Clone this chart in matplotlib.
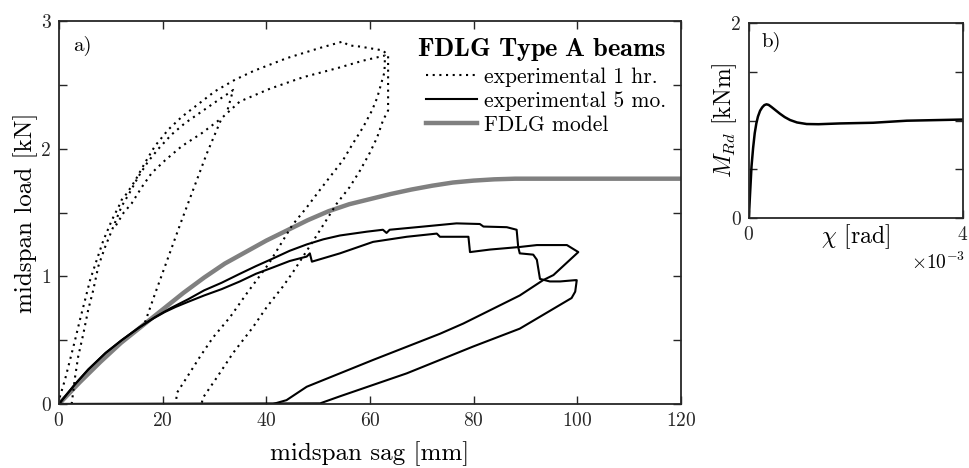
import matplotlib
matplotlib.use("Agg")
import matplotlib.pyplot as plt
from matplotlib.lines import Line2D

plt.rcParams['font.family'] = 'serif'
plt.rcParams['font.serif'] = ['cmr10']
plt.rcParams['mathtext.fontset'] = 'cm'
plt.rcParams['axes.formatter.use_mathtext'] = True
plt.rcParams['axes.unicode_minus'] = False

# ---- panel a data: experimental 1 hr. (dotted, several traced segments) ----
hr1_a_x = [0.0, 0.2, 1.16, 2.1, 3.1, 4.05, 5.0, 6.0, 7.3, 8.55, 10.2, 11.8, 12.1, 13.1, 14.7, 16.6, 18.5,
           21.1, 23.7, 26.9, 30.1, 33.95, 37.6, 44.0, 50.4, 54.8, 55.8, 58.1, 62.5, 63.5, 63.5, 63.5,
           62.5, 61.4, 60.0, 58.1, 56.1, 53.6, 49.4, 45.1, 43.2, 40.1, 37.4, 33.6, 30.5, 27.8, 27.5]
hr1_a_y = [0.0, 0.06, 0.19, 0.34, 0.50, 0.66, 0.81, 0.97, 1.13, 1.28, 1.44, 1.57, 1.60, 1.65, 1.75, 1.89, 2.02,
           2.15, 2.25, 2.35, 2.45, 2.54, 2.61, 2.71, 2.79, 2.84, 2.81, 2.80, 2.77, 2.73, 2.50, 2.30,
           2.22, 2.09, 1.97, 1.83, 1.70, 1.57, 1.30, 1.03, 0.92, 0.76, 0.60, 0.40, 0.21, 0.05, 0.0]

hr1_b_x = [2.45, 3.1, 3.7, 4.7, 5.65, 6.6, 7.6, 8.9, 10.2, 12.1, 12.4, 13.7, 15.3, 17.2, 19.2, 21.7,
           24.3, 27.5, 30.7, 33.3, 33.6, 32.5]
hr1_b_y = [0.0, 0.21, 0.37, 0.55, 0.74, 0.89, 1.08, 1.23, 1.36, 1.55, 1.57, 1.66, 1.78, 1.90, 2.00, 2.11,
           2.20, 2.29, 2.38, 2.45, 2.46, 2.30]

hr1_c_x = [11.0, 12.5, 14.0, 16.0, 17.9, 20.5, 23.7, 27.5, 31.4]
hr1_c_y = [1.40, 1.50, 1.57, 1.70, 1.81, 1.91, 2.02, 2.12, 2.24]

hr1_d_x = [16.6, 18.5, 21.0, 23.5, 26.0, 28.5, 31.4, 34.9, 40.7, 47.1, 53.6, 58.7, 62.9,
           62.8, 61.4, 60.4, 58.7, 56.7, 54.8, 52.3, 50.4, 47.8, 45.0, 40.5, 36.3, 33.0, 29.7,
           27.2, 24.7, 22.8, 22.5]
hr1_d_y = [0.64, 0.86, 1.14, 1.42, 1.69, 1.96, 2.24, 2.37, 2.47, 2.56, 2.63, 2.69, 2.73,
           2.60, 2.40, 2.30, 2.17, 2.04, 1.91, 1.78, 1.68, 1.54, 1.40, 1.10, 0.87, 0.68, 0.52,
           0.37, 0.21, 0.09, 0.0]

hr1_segments = [(hr1_a_x, hr1_a_y), (hr1_b_x, hr1_b_y), (hr1_c_x, hr1_c_y), (hr1_d_x, hr1_d_y)]

# ---- panel a data: experimental 5 mo. (solid) ----
mo5_a_x = [0.0, 3.0, 5.65, 9.0, 12.1, 15.5, 18.5, 21.5, 24.9, 28.0, 31.4, 34.9, 38.0, 41.3, 44.5, 47.8,
           51.0, 54.2, 59.4, 62.5, 63.2, 63.8, 70.3, 76.7, 81.2, 81.9, 86.4, 88.3, 88.6, 88.9, 91.5,
           92.2, 92.8, 94.7, 96.7, 99.6, 99.9, 99.6, 98.9, 88.9, 79.9, 67.1, 54.2, 50.4, 0.0]
mo5_a_y = [0.0, 0.15, 0.27, 0.40, 0.50, 0.60, 0.68, 0.75, 0.82, 0.89, 0.95, 1.02, 1.08, 1.14, 1.20, 1.25,
           1.29, 1.32, 1.35, 1.365, 1.34, 1.365, 1.39, 1.415, 1.41, 1.39, 1.385, 1.365, 1.23, 1.18, 1.17,
           1.13, 0.98, 0.96, 0.96, 0.97, 0.97, 0.88, 0.83, 0.59, 0.45, 0.24, 0.06, 0.005, 0.0]

mo5_b_x = [0.0, 3.0, 5.65, 9.0, 12.1, 15.5, 18.0, 20.4, 22.5, 24.9, 28.0, 31.4, 34.9, 38.0, 41.3, 44.5,
           47.8, 48.4, 48.8, 54.2, 60.6, 67.1, 72.9, 73.5, 79.0, 79.3, 83.2, 88.9, 92.2, 98.0, 100.2,
           98.6, 95.4, 93.4, 88.9, 78.0, 73.5, 60.6, 47.8, 43.9, 41.3, 0.0]
mo5_b_y = [0.0, 0.15, 0.27, 0.40, 0.50, 0.60, 0.665, 0.72, 0.76, 0.80, 0.85, 0.90, 0.96, 1.02, 1.07, 1.12,
           1.155, 1.18, 1.115, 1.18, 1.27, 1.31, 1.335, 1.31, 1.31, 1.19, 1.21, 1.23, 1.245, 1.245, 1.19,
           1.13, 1.01, 0.97, 0.85, 0.63, 0.55, 0.345, 0.135, 0.03, 0.0, 0.0]

# ---- panel a data: FDLG model ----
model_x = [0, 4, 8, 12, 16, 20, 24, 28, 32, 36, 40, 44, 48, 52, 56, 60, 64, 68, 72, 76, 80, 84, 88, 120]
model_y = [0, 0.17, 0.33, 0.48, 0.61, 0.74, 0.87, 0.99, 1.10, 1.19, 1.28, 1.36, 1.44, 1.51, 1.565,
           1.605, 1.645, 1.68, 1.71, 1.735, 1.75, 1.76, 1.765, 1.765]

# ---- panel b data: moment-curvature (chi in 1e-3 rad) ----
chi = [0.0, 0.02, 0.05, 0.08, 0.11, 0.14, 0.17, 0.21, 0.25, 0.29, 0.33, 0.37, 0.42, 0.5, 0.58, 0.67,
       0.77, 0.9, 1.08, 1.3, 1.7, 2.32, 2.95, 3.57, 4.0]
m_rd = [0.0, 0.22, 0.53, 0.72, 0.87, 0.97, 1.04, 1.10, 1.135, 1.158, 1.166, 1.16, 1.14, 1.105, 1.07,
        1.035, 1.005, 0.98, 0.964, 0.962, 0.97, 0.977, 0.998, 1.005, 1.01]

fig = plt.figure(figsize=(9.7, 4.68), dpi=100)
ax = fig.add_axes([0.0608, 0.1368, 0.6412, 0.8182])
axb = fig.add_axes([0.772, 0.534, 0.2208, 0.417])

dot_style = dict(color='black', lw=1.5, ls=(0, (1, 2.2)))
ax.plot(model_x, model_y, color='#808080', lw=3.2, solid_capstyle='butt')
ax.plot(mo5_a_x, mo5_a_y, color='black', lw=1.5)
ax.plot(mo5_b_x, mo5_b_y, color='black', lw=1.5)
for sx, sy in hr1_segments:
    ax.plot(sx, sy, **dot_style)

ax.set_xlim(0, 120)
ax.set_ylim(0, 3)
ax.set_xticks(range(0, 121, 20))
ax.set_yticks([0, 0.5, 1, 1.5, 2, 2.5, 3])
ax.set_yticklabels(['0', '', '1', '', '2', '', '3'])
ax.set_xlabel('midspan sag [mm]', fontsize=18, labelpad=8)
ax.set_ylabel('midspan load [kN]', fontsize=18, labelpad=2)
ax.text(0.022, 0.96, 'a)', transform=ax.transAxes, fontsize=15, va='top', ha='left')

handles = [Line2D([], [], **dot_style),
           Line2D([], [], color='black', lw=1.5),
           Line2D([], [], color='#808080', lw=3.2)]
leg = ax.legend(handles, ['experimental 1 hr.', 'experimental 5 mo.', 'FDLG model'],
                title=r'$\mathbf{FDLG\ Type\ A\ beams}$', loc='upper right',
                bbox_to_anchor=(1.0, 1.0), frameon=False, fontsize=15.5, title_fontsize=19,
                handlelength=2.4, handletextpad=0.3, labelspacing=0.2, borderaxespad=0.3)
leg._legend_box.align = 'right'

axb.plot(chi, m_rd, color='black', lw=1.8)
axb.set_xlim(0, 4)
axb.set_ylim(0, 2)
axb.set_xticks([0, 4])
axb.set_yticks([0, 0.5, 1, 1.5, 2])
axb.set_yticklabels(['0', '', '', '', '2'])
axb.set_xlabel(r'$\chi$ [rad]', fontsize=17, labelpad=-16)
axb.set_ylabel(r'$M_{Rd}$ [kNm]', fontsize=17, labelpad=-6)
axb.text(0.06, 0.955, 'b)', transform=axb.transAxes, fontsize=15, va='top', ha='left')
axb.text(1.01, -0.17, r'$\times10^{-3}$', transform=axb.transAxes, fontsize=14, ha='right', va='top')

for a in (ax, axb):
    a.tick_params(direction='in', length=6, width=1.0, top=True, right=True,
                  labelsize=14, colors='#262626', pad=6)
    for sp in a.spines.values():
        sp.set_linewidth(1.3)
        sp.set_color('#262626')

fig.savefig('out.png', dpi=100)
